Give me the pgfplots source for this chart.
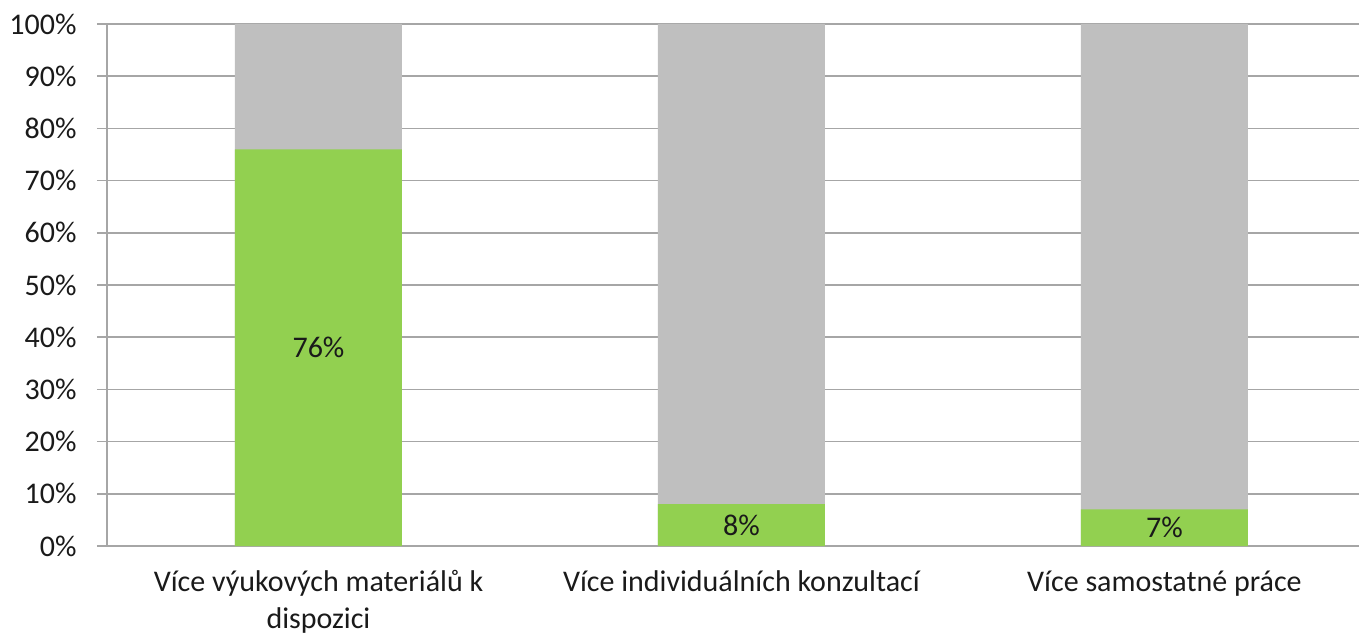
\documentclass[border=0pt]{standalone}
\usepackage{fontspec}
\setmainfont{Carlito}
\usepackage{pgfplots}
\pgfplotsset{compat=1.18}
\definecolor{barGreen}{HTML}{92D050}
\definecolor{barGrey}{HTML}{BFBFBF}
\definecolor{axGrey}{HTML}{A6A6A6}
\definecolor{txt}{HTML}{1A1A1A}

\begin{document}
\begin{tikzpicture}
\begin{axis}[
    name=ax,
    scale only axis,
    width=1252pt, height=522pt,
    xmin=-0.5, xmax=2.46,
    ymin=0, ymax=100,
    axis x line*=bottom, axis y line*=left,
    axis line style={-, draw=axGrey, line width=1.5pt},
    ymajorgrids, grid style={draw=axGrey, line width=1.5pt},
    tick align=outside, major tick length=10pt,
    ytick={0,10,...,100},
    yticklabel={\pgfmathprintnumber{\tick}\%},
    ytick style={draw=axGrey, line width=1.5pt},
    xtick={0,1,2},
    xtick style={draw=none},
    xticklabels={{Více výukových materiálů k\\dispozici},{Více individuálních konzultací},{Více samostatné práce}},
    extra x ticks={-0.5,0.5,1.5},
    extra x tick labels={},
    extra x tick style={grid=none, tick style={draw=axGrey, line width=1.5pt}},
    /pgf/number format/assume math mode=true,
    ticklabel style={font=\fontsize{30}{37}\selectfont, text=txt},
    xticklabel style={align=center, yshift=-11pt},
    yticklabel style={xshift=-17pt},
    clip=true,
]
\addplot[ybar, bar width=167pt, bar shift=0pt, fill=barGrey, draw=none] coordinates {(0,100) (1,100) (2,100)};
\addplot[ybar, bar width=167pt, bar shift=0pt, fill=barGreen, draw=none] coordinates {(0,76) (1,8) (2,7)};
\addplot[draw=none, mark=none, nodes near coords, point meta=explicit symbolic,
    every node near coord/.style={anchor=center, font=\fontsize{30}{37}\selectfont, text=txt}]
    coordinates {(0,38)[76\%] (1,4)[8\%] (2,3.5)[7\%]};
\end{axis}
\pgfresetboundingbox
\path (-107pt,-91pt) rectangle (1252pt,546pt);
\end{tikzpicture}
\end{document}
